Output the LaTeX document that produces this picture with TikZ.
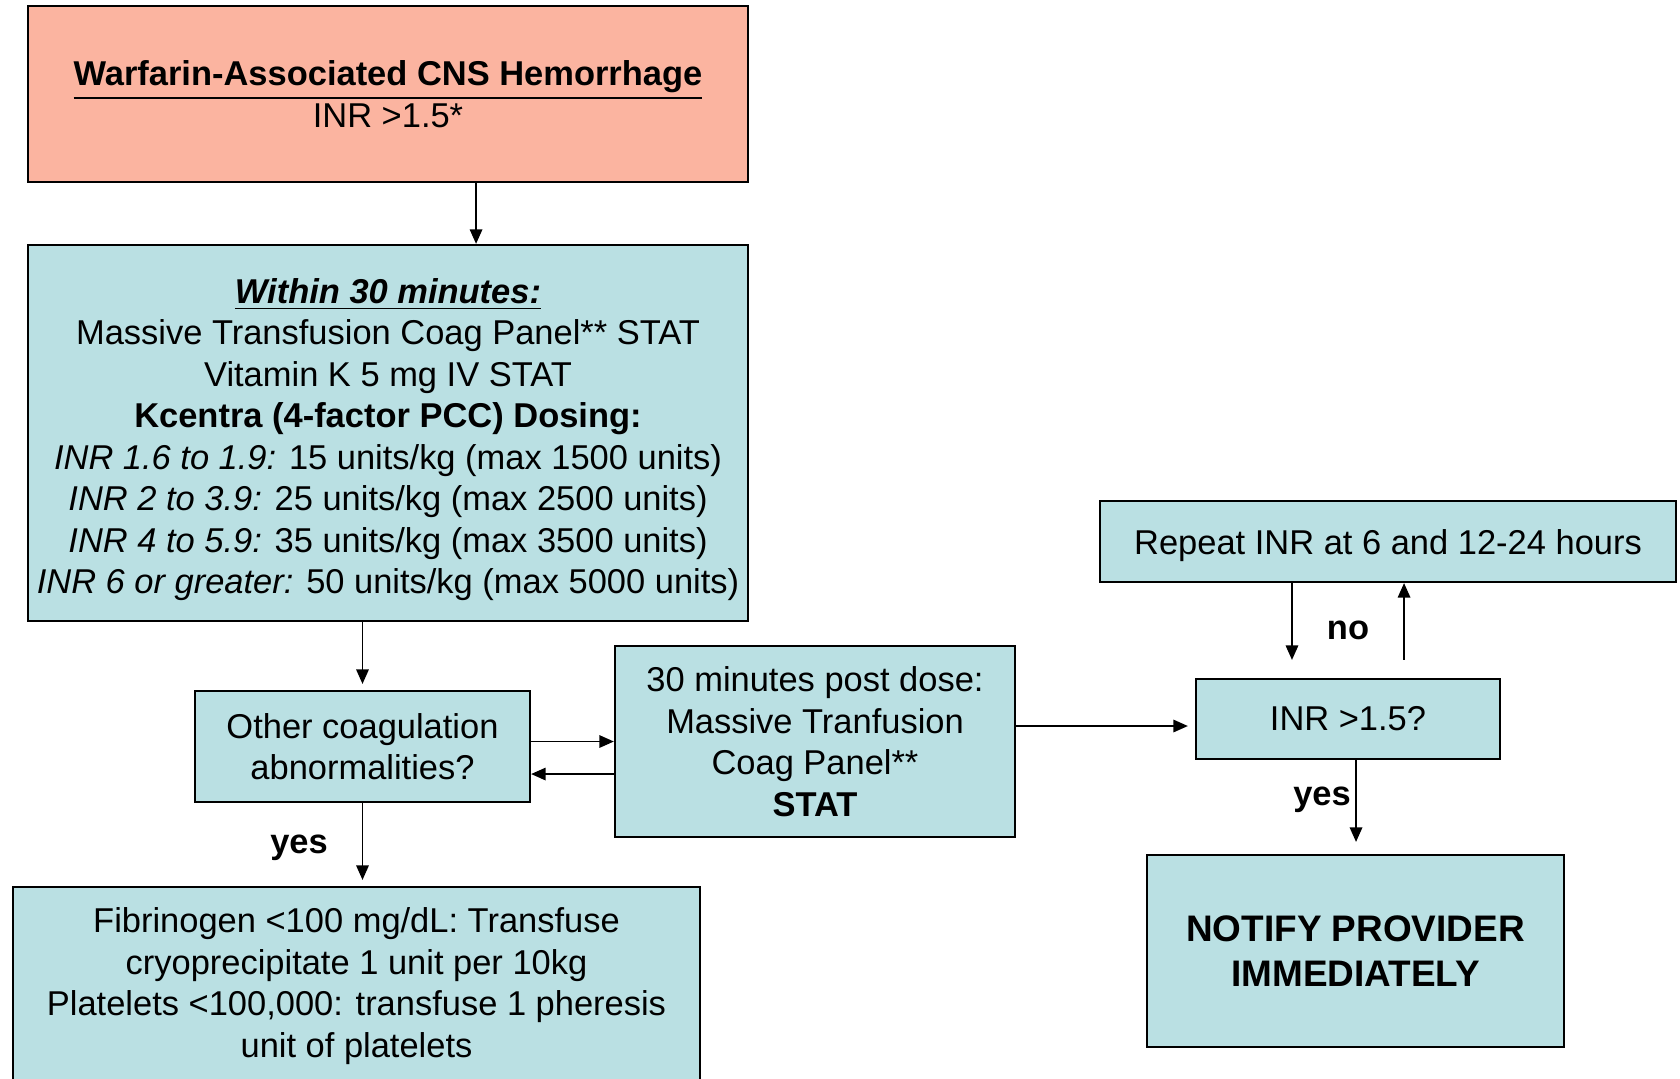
\documentclass[tikz,border=0pt]{standalone}
\usepackage{fontspec}
\setmainfont{Liberation Sans}
\usetikzlibrary{arrows.meta}

\definecolor{salmon}{HTML}{FBB4A0}
\definecolor{paleblue}{HTML}{BAE0E3}

\tikzset{
    box/.style={draw, line width=0.6pt, fill=paleblue, align=center, inner sep=0pt},
    lbl/.style={font=\bfseries\fontsize{9.8}{11.8}\selectfont},
    flow/.style={->, line width=0.45pt},
    >={Triangle[length=1.45mm, width=1.25mm]}
}

\begin{document}
\begin{tikzpicture}[x=0.01cm, y=-0.01cm, font=\fontsize{9.8}{11.8}\selectfont]

    \useasboundingbox (0,0) rectangle (1680,1078);

    % ---------------- Left column ----------------
    \node[box, fill=salmon, minimum width=7.2cm, minimum height=1.76cm] (top) at (388,94)
        {\underline{\textbf{Warfarin-Associated CNS Hemorrhage}}\\INR >1.5*};

    \node[box, minimum width=7.2cm, minimum height=3.76cm] (dosing) at (388,433)
        {\rule{0pt}{10.9pt}\underline{\textbf{\textit{Within 30 minutes:}}}\\
         Massive Transfusion Coag Panel** STAT\\
         Vitamin K 5 mg IV STAT\\
         \textbf{Kcentra (4-factor PCC) Dosing:}\\
         \textit{INR 1.6 to 1.9:} 15 units/kg (max 1500 units)\\
         \textit{INR 2 to 3.9:} 25 units/kg (max 2500 units)\\
         \textit{INR 4 to 5.9:} 35 units/kg (max 3500 units)\\
         \textit{INR 6 or greater:} 50 units/kg (max 5000 units)};

    \node[box, minimum width=3.35cm, minimum height=1.11cm] (other) at (362.5,746.5)
        {Other coagulation\\abnormalities?};

    \node[box, minimum width=6.87cm, minimum height=1.98cm] (fib) at (356.5,986)
        {Fibrinogen <100 mg/dL: Transfuse\\
         cryoprecipitate 1 unit per 10kg\\
         Platelets <100,000: transfuse 1 pheresis\\
         unit of platelets};

    % ---------------- Middle / right ----------------
    \node[box, minimum width=4cm, minimum height=1.91cm] (post) at (815,741.5)
        {30 minutes post dose:\\Massive Tranfusion\\Coag Panel**\\\textbf{STAT}};

    \node[box, minimum width=3.04cm, minimum height=0.8cm] (inr) at (1348,719)
        {INR >1.5?};

    \node[box, minimum width=5.76cm, minimum height=0.81cm, text depth=0pt] (repeat) at (1388,541.5)
        {Repeat INR at 6 and 12-24 hours};

    \node[box, minimum width=4.17cm, minimum height=1.92cm,
          font=\bfseries\fontsize{10.5}{12.8}\selectfont] (notify) at (1355.5,951)
        {NOTIFY PROVIDER\\IMMEDIATELY};

    % ---------------- Connectors ----------------
    \draw[flow] ([xshift=8.8mm]top.south) -- ([xshift=8.8mm]dosing.north);
    \draw[flow, shorten >=0.6mm] (dosing.south -| other.north) -- (other.north);
    \draw[flow, shorten >=0.6mm] (other.south) -- (other.south |- fib.north);
    \draw[flow] (other.east |- post.west) -- (post.west);
    \draw[flow] ([yshift=-3.25mm]post.west) -- ([yshift=-3.25mm]post.west -| other.east);
    \draw[flow, shorten >=0.7mm] ([yshift=1.55mm]post.east) -- ([yshift=1.55mm]post.east -| inr.west);
    \draw[flow, shorten >=1.8mm] ([xshift=-5.6mm]inr.north |- repeat.south) -- ([xshift=-5.6mm]inr.north);
    \draw[flow, shorten <=1.8mm] ([xshift=5.6mm]inr.north) -- ([xshift=5.6mm]inr.north |- repeat.south);
    \draw[flow, shorten >=1.2mm] ([xshift=0.8mm]inr.south) -- ([xshift=0.8mm]inr.south |- notify.north);

    % ---------------- Labels ----------------
    \node[lbl] (no) at (1348,630) {no};
    \node[lbl] (yesright) at (1322,800) {yes};
    \node[lbl] (yesleft) at (299,848) {yes};

\end{tikzpicture}
\end{document}
